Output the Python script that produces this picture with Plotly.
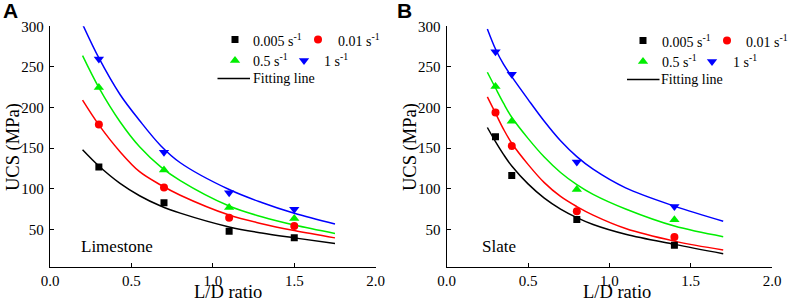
import plotly.graph_objects as go

W, H = 789, 299

# ---------------- data ----------------
rate_labels = ["0.005 s<sup>-1</sup>", "0.01 s<sup>-1</sup>", "0.5 s<sup>-1</sup>", "1 s<sup>-1</sup>"]

# Limestone (panel A)
lime_ld = [0.3, 0.7, 1.1, 1.5]
lime_0005 = [126.7, 82.8, 47.5, 39.6]
lime_001 = [179.0, 101.6, 64.3, 54.0]
lime_05 = [224.6, 123.2, 77.0, 63.3]
lime_1 = [259.8, 145.0, 95.0, 74.8]

lime_fit_ld_a = [0.2, 0.3, 0.43, 0.55, 0.68, 0.8, 1.1, 1.3, 1.5, 1.75]
lime_fit_0005 = [148.0, 128.0, 106.6, 91.4, 78.7, 70.0, 53.0, 45.5, 39.5, 32.5]
lime_fit_001 = [209.0, 178.6, 145.6, 121.0, 104.6, 92.0, 67.6, 57.0, 48.5, 39.5]
lime_fit_05 = [263.8, 224.5, 182.5, 151.7, 127.0, 110.0, 78.7, 65.5, 55.3, 45.0]
lime_fit_1 = [302.5, 261.0, 216.0, 184.0, 153.0, 132.0, 99.0, 83.0, 69.7, 56.5]

# Slate (panel B)
slate_ld = [0.3, 0.4, 0.8, 1.4]
slate_0005 = [164.0, 116.4, 62.0, 30.5]
slate_001 = [193.9, 152.6, 72.3, 40.7]
slate_05 = [226.0, 183.2, 99.1, 61.8]
slate_1 = [268.7, 241.0, 133.0, 78.0]

slate_fit_ld = [0.25, 0.3, 0.35, 0.4, 0.5, 0.6, 0.7, 0.8, 0.9, 1.1, 1.4, 1.7]
slate_fit_0005 = [175.4, 158.0, 142.0, 128.0, 106.0, 88.5, 75.0, 64.5, 56.0, 44.0, 31.5, 20.0]
slate_fit_001 = [213.0, 193.0, 173.0, 156.0, 130.0, 107.5, 90.5, 78.0, 67.5, 51.0, 35.5, 24.5]
slate_fit_05 = [243.4, 224.0, 205.0, 188.0, 162.0, 139.0, 120.0, 105.0, 93.0, 75.0, 54.0, 41.0]
slate_fit_1 = [296.7, 272.0, 253.0, 238.0, 210.0, 183.0, 159.0, 139.5, 124.0, 101.0, 78.6, 60.0]

x_tickvals = [0.0, 0.5, 1.0, 1.5, 2.0]
x_ticktext = ["0.0", "0.5", "1.0", "1.5", "2.0"]
y_tickvals = [50, 100, 150, 200, 250, 300]
y_ticktext = ["50", "100", "150", "200", "250", "300"]

# ---------------- style ----------------
colors = ["#000000", "#FF0000", "#00EE00", "#0000FF"]
symbols = ["square", "circle", "triangle-up", "triangle-down"]
msizes = [7, 8, 9, 9]
SERIF = "Liberation Serif"

fig = go.Figure()

panels = [
    ("x", "y", lime_ld, [lime_0005, lime_001, lime_05, lime_1],
     lime_fit_ld_a, [lime_fit_0005, lime_fit_001, lime_fit_05, lime_fit_1]),
    ("x2", "y2", slate_ld, [slate_0005, slate_001, slate_05, slate_1],
     slate_fit_ld, [slate_fit_0005, slate_fit_001, slate_fit_05, slate_fit_1]),
]

for xa, ya, xs, ser, fx, fser in panels:
    for i in range(4):
        fig.add_trace(go.Scatter(x=fx, y=fser[i], mode="lines", xaxis=xa, yaxis=ya,
                                 line=dict(color=colors[i], width=1.5, shape="spline", smoothing=1.0),
                                 showlegend=False, hoverinfo="skip"))
    for i in range(4):
        fig.add_trace(go.Scatter(x=xs, y=ser[i], mode="markers", xaxis=xa, yaxis=ya,
                                 marker=dict(symbol=symbols[i], color=colors[i], size=msizes[i], line=dict(width=0)),
                                 showlegend=False))

def px(x):
    return x / W

def py(y):
    return 1 - y / H

LEG_FONT = 14
legend_specs = [
    dict(items=[(235, 39.5, 251), (318, 39.5, 336), (235, 60.5, 251), (304, 60.5, 322)],
         line=(217.5, 250, 78.5, 251)),
    dict(items=[(643, 40.5, 660), (727, 40.5, 744), (643, 61.5, 660), (712, 61.5, 731)],
         line=(627, 659.5, 79.5, 659)),
]

for spec in legend_specs:
    for i, (mx, my, tx) in enumerate(spec["items"]):
        fig.add_trace(go.Scatter(x=[mx], y=[my], mode="markers", xaxis="x3", yaxis="y3",
                                 marker=dict(symbol=symbols[i], color=colors[i], size=msizes[i], line=dict(width=0)),
                                 showlegend=False, hoverinfo="skip", cliponaxis=False))
        fig.add_annotation(x=px(tx), y=py(my), xref="paper", yref="paper", text=rate_labels[i],
                           showarrow=False, xanchor="left", yanchor="middle",
                           font=dict(family=SERIF, size=LEG_FONT, color="black"))
    x0, x1, ly, tx = spec["line"]
    fig.add_shape(type="line", xref="paper", yref="paper", x0=px(x0), x1=px(x1), y0=py(ly), y1=py(ly),
                  line=dict(color="black", width=1.5))
    fig.add_annotation(x=px(tx), y=py(ly), xref="paper", yref="paper", text="Fitting line",
                       showarrow=False, xanchor="left", yanchor="middle",
                       font=dict(family=SERIF, size=LEG_FONT, color="black"))

# axes
top, bottom = 26.3, 266.7
axA = (50.0, 375.7)
axB = (446.7, 772.0)

common_x = dict(range=[0, 2], tickvals=x_tickvals, ticktext=x_ticktext, ticks="inside", ticklen=4,
                tickwidth=1.2, tickcolor="black", showline=True, linecolor="black", linewidth=1.3,
                showgrid=False, zeroline=False, automargin=False, ticklabelstandoff=0,
                tickfont=dict(family=SERIF, size=15, color="black"))
common_y = dict(range=[4, 300], tickvals=y_tickvals, ticktext=y_ticktext, ticks="inside", ticklen=4,
                tickwidth=1.2, tickcolor="black", showline=True, linecolor="black", linewidth=1.3,
                showgrid=False, zeroline=False, automargin=False, ticklabelstandoff=2,
                tickfont=dict(family=SERIF, size=15, color="black"))

fig.update_layout(
    width=W, height=H,
    margin=dict(l=0, r=0, t=0, b=0),
    paper_bgcolor="white", plot_bgcolor="rgba(0,0,0,0)",
    showlegend=False,
    xaxis=dict(domain=[axA[0] / W, axA[1] / W], anchor="y", **common_x),
    yaxis=dict(domain=[1 - bottom / H, 1 - top / H], anchor="x", **common_y),
    xaxis2=dict(domain=[axB[0] / W, axB[1] / W], anchor="y2", **common_x),
    yaxis2=dict(domain=[1 - bottom / H, 1 - top / H], anchor="x2", **common_y),
    xaxis3=dict(domain=[0, 1], range=[0, W], visible=False, anchor="y3", fixedrange=True),
    yaxis3=dict(domain=[0, 1], range=[H, 0], visible=False, anchor="x3", fixedrange=True),
)

TITLE_FONT = 18.5
for cx in (228, 617):
    fig.add_annotation(x=px(cx), y=py(291.5), xref="paper", yref="paper", text="L/D ratio",
                       showarrow=False, xanchor="center", yanchor="middle",
                       font=dict(family=SERIF, size=TITLE_FONT, color="black"))
for cx in (13, 410):
    fig.add_annotation(x=px(cx), y=py(147), xref="paper", yref="paper", text="UCS (MPa)",
                       showarrow=False, xanchor="center", yanchor="middle", textangle=-90,
                       font=dict(family=SERIF, size=TITLE_FONT, color="black"))

fig.add_annotation(x=px(79), y=py(246), xref="paper", yref="paper", text="Limestone",
                   showarrow=False, xanchor="left", yanchor="middle",
                   font=dict(family=SERIF, size=17, color="black"))
fig.add_annotation(x=px(480), y=py(246), xref="paper", yref="paper", text="Slate",
                   showarrow=False, xanchor="left", yanchor="middle",
                   font=dict(family=SERIF, size=17, color="black"))

fig.add_annotation(x=px(1), y=py(10.5), xref="paper", yref="paper", text="<b>A</b>",
                   showarrow=False, xanchor="left", yanchor="middle",
                   font=dict(family="Liberation Sans", size=21, color="black"))
fig.add_annotation(x=px(395), y=py(10.5), xref="paper", yref="paper", text="<b>B</b>",
                   showarrow=False, xanchor="left", yanchor="middle",
                   font=dict(family="Liberation Sans", size=21, color="black"))

fig.write_html("out.html", config={"displayModeBar": False},
               post_script="document.body.style.margin='0';document.body.style.padding='0';document.body.style.overflow='hidden';")
